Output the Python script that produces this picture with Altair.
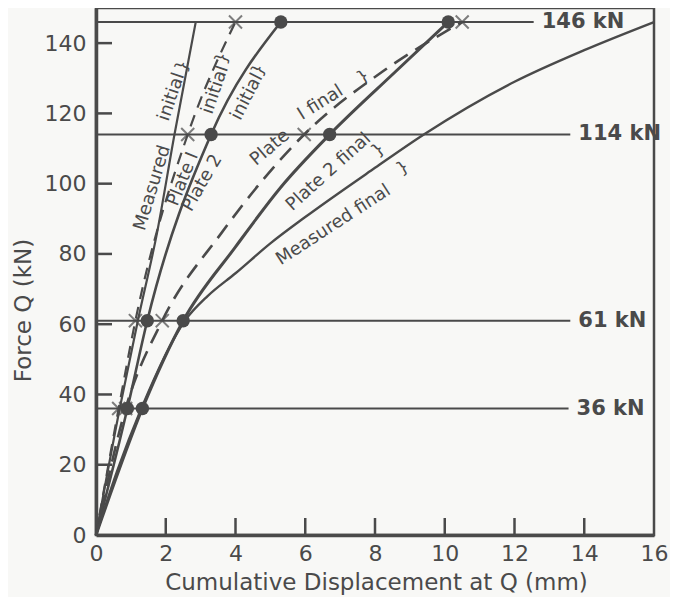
import altair as alt
import pandas as pd

FONT = "DejaVu Sans"
INK = "#4a4a4a"

# ---- curves (displacement mm, force kN) ----
mi_x = [0, 0.68, 1.2, 1.75, 2.25, 2.86]
mi_y = [0, 36, 61, 86, 114, 146]
p1i_x = [0, 0.65, 1.13, 2.63, 4.0]
p1i_y = [0, 36, 61, 114, 146]
p2i_x = [0, 0.9, 1.47, 3.3, 5.3]
p2i_y = [0, 36, 61, 114, 146]
p1f_x = [0, 0.85, 1.9, 3.6, 5.97, 8.3, 10.5]
p1f_y = [0, 36, 61, 86, 114, 132.5, 146]
p2f_x = [0, 1.33, 2.5, 4.0, 5.3, 6.7, 8.6, 10.1]
p2f_y = [0, 36, 61, 82, 99, 114, 132, 146]
mf_x = [0, 0.6, 1.3, 2.55, 3.2, 4.0, 5.0, 6.0, 8.0, 9.4, 12.0, 14.0, 16.0]
mf_y = [0, 18, 36, 61, 68, 74.5, 83, 90.5, 104.5, 114, 129, 138, 146]

# ---- markers ----
load_levels = [36, 61, 114, 146]
p1i_mark_x = [0.65, 1.13, 2.63, 4.0]
p2i_mark_x = [0.9, 1.47, 3.3, 5.3]
p1f_mark_x = [0.85, 1.9, 5.97, 10.5]
p2f_mark_x = [1.33, 2.5, 6.7, 10.1]

# ---- reference load lines ----
ref_vals = [146, 114, 61, 36]
ref_end = [12.55, 13.6, 13.6, 13.55]
ref_text = ["146 kN", "114 kN", "61 kN", "36 kN"]

# ---- curve labels ----
lab_text = ["Measured", "initial", "Plate I", "initial", "Plate 2", "initial",
            "Plate", "I final", "Plate 2 final", "Measured final"]
lab_x = [1.62, 2.17, 2.5, 3.42, 3.05, 4.33, 4.99, 6.44, 6.67, 6.81]
lab_y = [98.8, 124.7, 101.3, 126.7, 100.2, 124.7, 110.2, 123.0, 103.3, 88.2]
lab_angle = [287, 289, 292, 289, 300, 297, 320, 328, 318, 327]

# ---- bracket leaders ----
br_x = [2.48, 3.62, 4.67, 7.66, 8.09, 8.8]
br_y = [133.5, 135.8, 132.4, 130.4, 109.6, 104.5]
br_angle = [289, 289, 297, 328, 318, 327]

x_ticks = [0, 2, 4, 6, 8, 10, 12, 14, 16]
y_ticks = [0, 20, 40, 60, 80, 100, 120, 140]

W, H = 558, 527
xs = alt.Scale(domain=[0, 16], nice=False, zero=False)
ys = alt.Scale(domain=[0, 150], nice=False, zero=False)

xax = alt.Axis(values=x_ticks, ticks=False, grid=False, labelPadding=8,
               labelFlush=False,
               title="Cumulative Displacement at Q (mm)", titleX=280, titleY=47,
               titleBaseline="middle", titleAlign="center")
yax = alt.Axis(values=y_ticks, ticks=False, grid=False, labelPadding=10,
               labelFlush=False,
               title="Force Q (kN)", titleX=-73, titleY=302, titleAngle=270,
               titleBaseline="middle", titleAlign="center")

layers = []

# reference lines
ref_df = pd.DataFrame({"v": ref_vals, "x0": [0] * 4, "x1": ref_end, "t": ref_text})
layers.append(alt.Chart(ref_df).mark_rule(color=INK, strokeWidth=2).encode(
    x=alt.X("x0:Q", scale=xs, axis=xax), x2="x1:Q",
    y=alt.Y("v:Q", scale=ys, axis=yax)))
layers.append(alt.Chart(ref_df).mark_text(
    align="left", baseline="middle", dx=8, font=FONT, fontSize=21,
    fontWeight=600, color=INK).encode(
    x=alt.X("x1:Q", scale=xs), y=alt.Y("v:Q", scale=ys), text="t:N"))

styles = {
    "mi": dict(strokeWidth=2.2),
    "p1i": dict(strokeWidth=2.2, strokeDash=[12, 8]),
    "p2i": dict(strokeWidth=2.6),
    "p1f": dict(strokeWidth=2.6, strokeDash=[16, 9]),
    "p2f": dict(strokeWidth=3.0),
    "mf": dict(strokeWidth=2.4),
}
curves = {"mi": (mi_x, mi_y), "p1i": (p1i_x, p1i_y), "p2i": (p2i_x, p2i_y),
          "p1f": (p1f_x, p1f_y), "p2f": (p2f_x, p2f_y), "mf": (mf_x, mf_y)}
for key, (cx, cy) in curves.items():
    df = pd.DataFrame({"x": cx, "y": cy, "o": list(range(len(cx)))})
    layers.append(alt.Chart(df).mark_line(
        color=INK, interpolate="monotone", **styles[key]).encode(
        x=alt.X("x:Q", scale=xs), y=alt.Y("y:Q", scale=ys), order="o:Q"))

# markers
cross_path = "M-1,-1L1,1M1,-1L-1,1"
for mx in (p1i_mark_x, p1f_mark_x):
    df = pd.DataFrame({"x": mx, "y": load_levels})
    layers.append(alt.Chart(df).mark_point(
        shape=cross_path, size=170, stroke=INK, strokeWidth=2, filled=False).encode(
        x=alt.X("x:Q", scale=xs), y=alt.Y("y:Q", scale=ys)))
for mx in (p2i_mark_x, p2f_mark_x):
    df = pd.DataFrame({"x": mx, "y": load_levels})
    layers.append(alt.Chart(df).mark_circle(
        size=180, color=INK, opacity=1).encode(
        x=alt.X("x:Q", scale=xs), y=alt.Y("y:Q", scale=ys)))

# inside ticks
ytk = pd.DataFrame({"v": y_ticks[1:]})
layers.append(alt.Chart(ytk).mark_rule(color=INK, strokeWidth=2.5).encode(
    y=alt.Y("v:Q", scale=ys), x=alt.value(0), x2=alt.value(16)))
xtk = pd.DataFrame({"v": x_ticks[1:-1]})
layers.append(alt.Chart(xtk).mark_rule(color=INK, strokeWidth=2.5).encode(
    x=alt.X("v:Q", scale=xs), y=alt.value(H - 17), y2=alt.value(H)))

# curve labels
for t, lx, ly, ang in zip(lab_text, lab_x, lab_y, lab_angle):
    df = pd.DataFrame({"x": [lx], "y": [ly], "t": [t]})
    layers.append(alt.Chart(df).mark_text(
        angle=ang, font=FONT, fontSize=18, color=INK, align="center",
        baseline="middle").encode(
        x=alt.X("x:Q", scale=xs), y=alt.Y("y:Q", scale=ys), text="t:N"))

# bracket leaders
for bx, by, ang in zip(br_x, br_y, br_angle):
    df = pd.DataFrame({"x": [bx], "y": [by], "t": ["}"]})
    layers.append(alt.Chart(df).mark_text(
        angle=ang, font=FONT, fontSize=17, color=INK, align="center",
        baseline="middle").encode(
        x=alt.X("x:Q", scale=xs), y=alt.Y("y:Q", scale=ys), text="t:N"))

chart = alt.layer(*layers).properties(
    width=W, height=H, autosize="none",
    padding={"left": 88, "top": 0, "right": 16, "bottom": 62},
    background="#f8f8f6",
).configure_view(stroke=INK, strokeWidth=2.5).configure_axis(
    domain=True, domainColor=INK, domainWidth=3.5,
    labelFont=FONT, labelFontSize=22, labelColor=INK,
    titleFont=FONT, titleFontSize=23, titleFontWeight="normal", titleColor=INK,
)

chart.save("out.html", embed_options={"renderer": "svg", "actions": False})
